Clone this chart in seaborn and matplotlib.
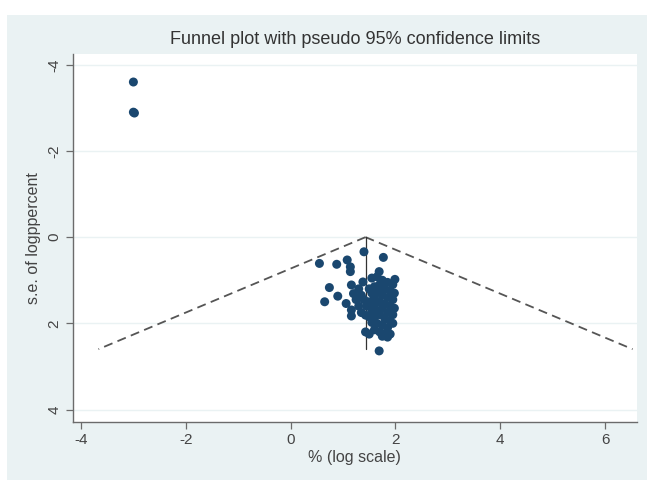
import matplotlib
matplotlib.use("Agg")
import matplotlib.pyplot as plt
import seaborn as sns
import numpy as np
import pandas as pd
from matplotlib.patches import Rectangle

# ---- data ----
effect_x = [-3.00, -3.00, -2.98,
            1.40, 1.77, 0.55, 0.88, 1.08, 1.14, 1.14, 1.69,
            1.38, 1.99, 0.74, 0.90, 0.65, 1.16, 1.20, 1.06, 1.16, 1.16, 1.43, 1.43, 1.69,
            1.55, 1.65, 1.75, 1.85, 1.95, 1.70, 1.60, 1.50, 1.30, 1.35, 1.25, 1.40,
            1.55, 1.65, 1.80, 1.90, 1.98, 1.75, 1.85, 1.95, 1.60, 1.50, 1.30, 1.45,
            1.60, 1.70, 1.80, 1.90, 1.98, 1.55, 1.65, 1.75, 1.85, 1.95, 1.50, 1.60,
            1.70, 1.80, 1.90, 1.55, 1.65, 1.75, 1.85, 1.95, 1.60, 1.70, 1.80, 1.50,
            1.90, 1.75, 1.85, 1.35]
se_vals = [-3.60, -2.90, -2.88,
           0.34, 0.47, 0.61, 0.63, 0.53, 0.69, 0.80, 0.80,
           1.04, 0.98, 1.17, 1.37, 1.50, 1.11, 1.31, 1.54, 1.69, 1.83, 1.81, 2.20, 2.64,
           0.95, 0.92, 1.00, 1.05, 1.10, 1.10, 1.15, 1.20, 1.20, 1.35, 1.45, 1.45,
           1.30, 1.25, 1.20, 1.25, 1.30, 1.35, 1.40, 1.45, 1.40, 1.50, 1.60, 1.60,
           1.55, 1.50, 1.55, 1.60, 1.65, 1.70, 1.70, 1.65, 1.75, 1.80, 1.85, 1.85,
           1.80, 1.90, 1.95, 1.98, 2.00, 2.05, 2.10, 2.00, 2.15, 2.20, 2.25, 2.25,
           2.25, 2.30, 2.32, 1.75]

pooled_estimate = 1.43
max_se = 2.6
z95 = 1.96

x_ticks = [-4, -2, 0, 2, 4, 6]
x_tick_labels = ["-4", "-2", "0", "2", "4", "6"]
y_ticks = [-4, -2, 0, 2, 4]
y_tick_labels = ["-4", "-2", "0", "2", "4"]

title_text = "Funnel plot with pseudo 95% confidence limits"
x_label = "% (log scale)"
y_label = "s.e. of logppercent"

# ---- build frames ----
pts = pd.DataFrame({"x": effect_x, "se": se_vals})
funnel_se = np.array([0.0, max_se])
left_limit = pd.DataFrame({"se": funnel_se, "x": pooled_estimate - z95 * funnel_se})
right_limit = pd.DataFrame({"se": funnel_se, "x": pooled_estimate + z95 * funnel_se})
center_line = pd.DataFrame({"se": funnel_se, "x": [pooled_estimate, pooled_estimate]})

# ---- style ----
sns.set_theme(style="white")
plt.rcParams["font.family"] = ["Liberation Sans", "DejaVu Sans"]

fig = plt.figure(figsize=(6.47, 4.8), dpi=100)
fig.patch.set_facecolor("white")
bg = Rectangle((7 / 647, 0), 1 - 7 / 647, 1 - 15 / 480, transform=fig.transFigure,
               facecolor="#eaf2f3", edgecolor="none", zorder=-10)
fig.patches.append(bg)

ax = fig.add_axes([72.6 / 647, (480 - 422) / 480, (637 - 72.6) / 647, (422 - 54) / 480])
ax.set_facecolor("white")

for yt in y_ticks:
    ax.axhline(yt, color="#eaf2f3", lw=1.0, zorder=0)

sns.lineplot(data=left_limit, x="x", y="se", ax=ax, color="#555555", lw=1.3,
             linestyle=(0, (5, 3)), sort=False, estimator=None)
sns.lineplot(data=right_limit, x="x", y="se", ax=ax, color="#555555", lw=1.3,
             linestyle=(0, (5, 3)), sort=False, estimator=None)
sns.lineplot(data=center_line, x="x", y="se", ax=ax, color="#333333", lw=0.9,
             sort=False, estimator=None, orient="y")
sns.scatterplot(data=pts, x="x", y="se", ax=ax, color="#1a476f", s=42,
                edgecolor="none", zorder=3)

ax.set_xlim(-4.16, 6.61)
ax.set_ylim(4.29, -4.25)

ax.set_xticks(x_ticks)
ax.set_xticklabels(x_tick_labels, fontsize=11, color="#444444")
ax.set_yticks(y_ticks)
ax.set_yticklabels(y_tick_labels, fontsize=11, color="#444444", rotation=90, va="center")

for side in ["top", "right"]:
    ax.spines[side].set_visible(False)
for side in ["left", "bottom"]:
    ax.spines[side].set_color("#6b6b6b")
    ax.spines[side].set_linewidth(1.0)
ax.tick_params(axis="both", which="both", direction="out", length=5, width=0.9,
               color="#6b6b6b", left=True, bottom=True, pad=3)

ax.set_xlabel(x_label, fontsize=11.5, color="#444444", labelpad=2)
ax.set_ylabel(y_label, fontsize=11.5, color="#444444", labelpad=5)
ax.set_title(title_text, fontsize=13, color="#333333", pad=7)

fig.savefig("out.png", dpi=100, facecolor=fig.get_facecolor())
